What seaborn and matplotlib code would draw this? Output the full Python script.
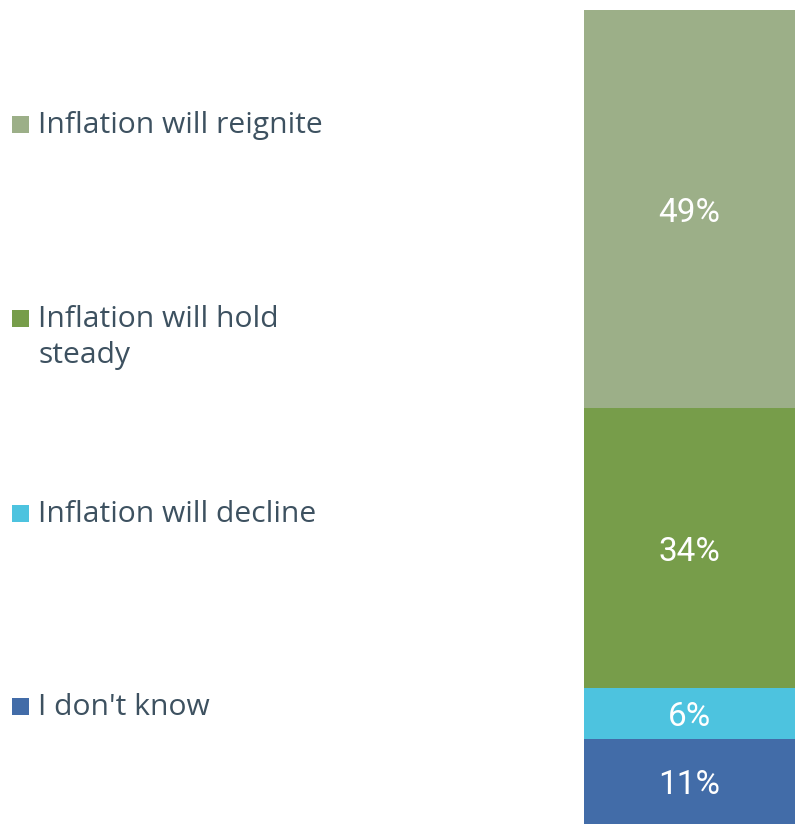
import numpy as np
import pandas as pd
import matplotlib
matplotlib.use("Agg")
import matplotlib.pyplot as plt
from matplotlib.patches import Rectangle
import seaborn as sns

# ------------------------------------------------------------------------------
# Data (bottom to top of the stacked bar)
# ------------------------------------------------------------------------------
categories = ["I don't know", "Inflation will decline",
              "Inflation will hold\nsteady", "Inflation will reignite"]
shares = [10.4, 6.3, 34.4, 48.9]          # segment heights
share_labels = ["11%", "6%", "34%", "49%"]
colors = ["#426ca8", "#4dc3df", "#779d4a", "#9caf88"]

text_color = "#3d5160"

sns.set_theme(style="white")
plt.rcParams["font.family"] = ["Open Sans", "DejaVu Sans"]

fig = plt.figure(figsize=(7.95, 8.24), dpi=100)
W, H = 795, 824

# bar axes on the right side
ax = fig.add_axes([584 / W, 0, 211 / W, 814 / H])

df = pd.DataFrame({"category": categories, "share": shares})
df["top"] = df["share"].cumsum()
df["bottom"] = df["top"] - df["share"]

# draw the cumulative totals from the tallest down so each layer shows
for i in reversed(range(len(df))):
    sns.barplot(x=["all"], y=[df["top"].iloc[i]], color=colors[i],
                width=1, saturation=1, linewidth=0, errorbar=None, ax=ax)

for i, row in df.iterrows():
    ax.text(0, row["bottom"] + row["share"] / 2, share_labels[i],
            ha="center", va="center_baseline", color="white", fontsize=24,
            family=["Roboto", "DejaVu Sans"])

ax.set_xlim(-0.5, 0.5)
ax.set_ylim(0, df["top"].iloc[-1])
ax.axis("off")

# ------------------------------------------------------------------------------
# Left-hand legend (top to bottom)
# ------------------------------------------------------------------------------
baselines = [133, 327, 522, 715]   # pixel baselines, top to bottom
line_gap = 36
for k, idx in enumerate(reversed(range(len(categories)))):
    yb = baselines[k]
    fig.patches.append(Rectangle((12 / W, 1 - yb / H), 17 / W, 17 / H,
                                 transform=fig.transFigure,
                                 facecolor=colors[idx], edgecolor="none"))
    for j, line in enumerate(categories[idx].split("\n")):
        fig.text(38 / W, 1 - (yb + j * line_gap) / H, line, ha="left",
                 va="baseline", color=text_color, fontsize=21.6)

fig.savefig("out.png", dpi=100)
